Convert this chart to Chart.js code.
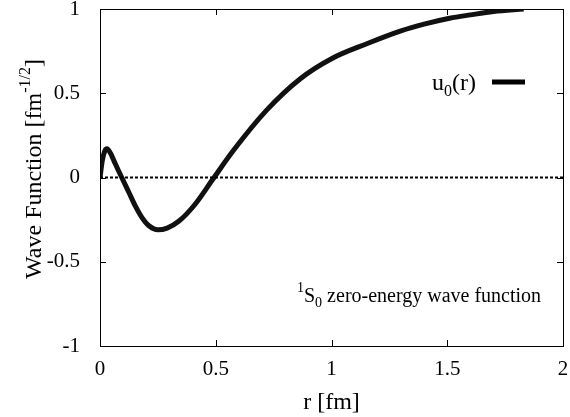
<!DOCTYPE html>
<html>
<head>
<meta charset="utf-8">
<script src="https://cdn.jsdelivr.net/npm/chart.js@4.4.0/dist/chart.umd.min.js"></script>
<style>
html,body{margin:0;padding:0;background:#fff;}
#wrap{width:570px;height:417px;position:relative;}
</style>
</head>
<body>
<div id="wrap"><canvas id="c" width="570" height="417"></canvas></div>
<script>
const rValues = [0, 0.01, 0.02, 0.03, 0.045, 0.06, 0.08, 0.094, 0.127, 0.153, 0.18, 0.21, 0.25, 0.29, 0.34, 0.41, 0.485, 0.576, 0.72, 0.864, 1.0, 1.155, 1.3, 1.4, 1.51, 1.6, 1.7, 1.83];
const uValues = [0, 0.10, 0.155, 0.17, 0.145, 0.10, 0.04, 0, -0.095, -0.17, -0.235, -0.285, -0.31, -0.30, -0.26, -0.16, -0.015, 0.16, 0.40, 0.585, 0.705, 0.795, 0.87, 0.91, 0.945, 0.965, 0.985, 1.0];
const xTicks = [0, 0.5, 1, 1.5, 2];
const yTicks = [-1, -0.5, 0, 0.5, 1];
const zeroLine = [[0, 0], [2, 0]];
const seriesLabel = 'u0(r)';

const FONT = '"Liberation Serif", "DejaVu Serif", serif';

const framePlugin = {
  id: 'frame',
  afterDatasetsDraw(chart) {
    const {ctx, chartArea: a, scales: {x, y}} = chart;
    ctx.save();
    ctx.strokeStyle = '#000';
    ctx.lineWidth = 1;
    ctx.strokeRect(Math.round(a.left) + 0.5, Math.round(a.top) + 0.5, Math.round(a.right - a.left), Math.round(a.bottom - a.top));
    const tl = 6;
    ctx.beginPath();
    xTicks.forEach(v => {
      const px = Math.round(x.getPixelForValue(v)) + 0.5;
      ctx.moveTo(px, a.bottom); ctx.lineTo(px, a.bottom - tl);
      ctx.moveTo(px, a.top); ctx.lineTo(px, a.top + tl);
    });
    yTicks.forEach(v => {
      const py = Math.round(y.getPixelForValue(v)) + 0.5;
      ctx.moveTo(a.left, py); ctx.lineTo(a.left + tl, py);
      ctx.moveTo(a.right, py); ctx.lineTo(a.right - tl, py);
    });
    ctx.stroke();

    // legend
    ctx.fillStyle = '#000';
    ctx.textBaseline = 'alphabetic';
    ctx.textAlign = 'left';
    const lx = 432, ly = 90;
    ctx.font = '24px ' + FONT;
    ctx.fillText('u', lx, ly);
    let w = ctx.measureText('u').width;
    ctx.font = '16px ' + FONT;
    ctx.fillText('0', lx + w, ly + 6);
    w += ctx.measureText('0').width;
    ctx.font = '24px ' + FONT;
    ctx.fillText('(r)', lx + w, ly);
    ctx.lineWidth = 5;
    ctx.beginPath();
    ctx.moveTo(492, 82); ctx.lineTo(525, 82);
    ctx.stroke();

    // annotation
    const ax = 297, ay = 302;
    ctx.font = '14px ' + FONT;
    ctx.fillText('1', ax, ay - 10);
    let aw = ctx.measureText('1').width;
    ctx.font = '20px ' + FONT;
    ctx.fillText('S', ax + aw, ay);
    aw += ctx.measureText('S').width;
    ctx.font = '14px ' + FONT;
    ctx.fillText('0', ax + aw, ay + 5);
    aw += ctx.measureText('0').width;
    ctx.font = '20px ' + FONT;
    ctx.fillText(' zero-energy wave function', ax + aw, ay);

    // y title
    ctx.translate(41, 169);
    ctx.rotate(-Math.PI / 2);
    ctx.font = '24px ' + FONT;
    const t1 = 'Wave Function [fm';
    const sup = '-1/2';
    const t2 = ']';
    const w1 = ctx.measureText(t1).width;
    ctx.font = '16px ' + FONT;
    const ws = ctx.measureText(sup).width;
    ctx.font = '24px ' + FONT;
    const w2 = ctx.measureText(t2).width;
    let sx = -(w1 + ws + w2) / 2;
    ctx.fillText(t1, sx, 0);
    ctx.font = '16px ' + FONT;
    ctx.fillText(sup, sx + w1, -11);
    ctx.font = '24px ' + FONT;
    ctx.fillText(t2, sx + w1 + ws, 0);
    ctx.restore();
  }
};

new Chart(document.getElementById('c'), {
  type: 'scatter',
  data: {
    datasets: [
      {
        label: 'zero',
        data: zeroLine.map(p => ({x: p[0], y: p[1]})),
        showLine: true,
        borderColor: '#000',
        borderWidth: 2,
        borderDash: [3, 2],
        pointRadius: 0,
        fill: false
      },
      {
        label: seriesLabel,
        data: rValues.map((r, i) => ({x: r, y: uValues[i]})),
        showLine: true,
        borderColor: '#111',
        borderWidth: 5,
        pointRadius: 0,
        cubicInterpolationMode: 'monotone',
        fill: false
      }
    ]
  },
  options: {
    responsive: false,
    animation: false,
    devicePixelRatio: 1,
    layout: {padding: {left: 0, right: 7, top: 9, bottom: 0}},
    plugins: {legend: {display: false}, tooltip: {enabled: false}},
    scales: {
      x: {
        type: 'linear', min: 0, max: 2,
        afterBuildTicks: s => { s.ticks = xTicks.map(v => ({value: v})); },
        afterFit: s => { s.height = 71; s.paddingLeft = 0; s.paddingRight = 0; },
        grid: {display: false},
        border: {display: false},
        ticks: {color: '#000', font: {family: FONT, size: 21}, padding: 3, maxRotation: 0,
          callback: v => String(v)},
        title: {display: true, text: 'r [fm]', color: '#000', font: {family: FONT, size: 24}, padding: {top: 2, bottom: 0}}
      },
      y: {
        type: 'linear', min: -1, max: 1,
        afterBuildTicks: s => { s.ticks = yTicks.map(v => ({value: v})); },
        afterFit: s => { s.width = 100; s.paddingTop = 0; s.paddingBottom = 0; },
        grid: {display: false},
        border: {display: false},
        ticks: {color: '#000', font: {family: FONT, size: 21}, padding: 12,
          callback: v => String(v)}
      }
    }
  },
  plugins: [framePlugin]
});
</script>
</body>
</html>
